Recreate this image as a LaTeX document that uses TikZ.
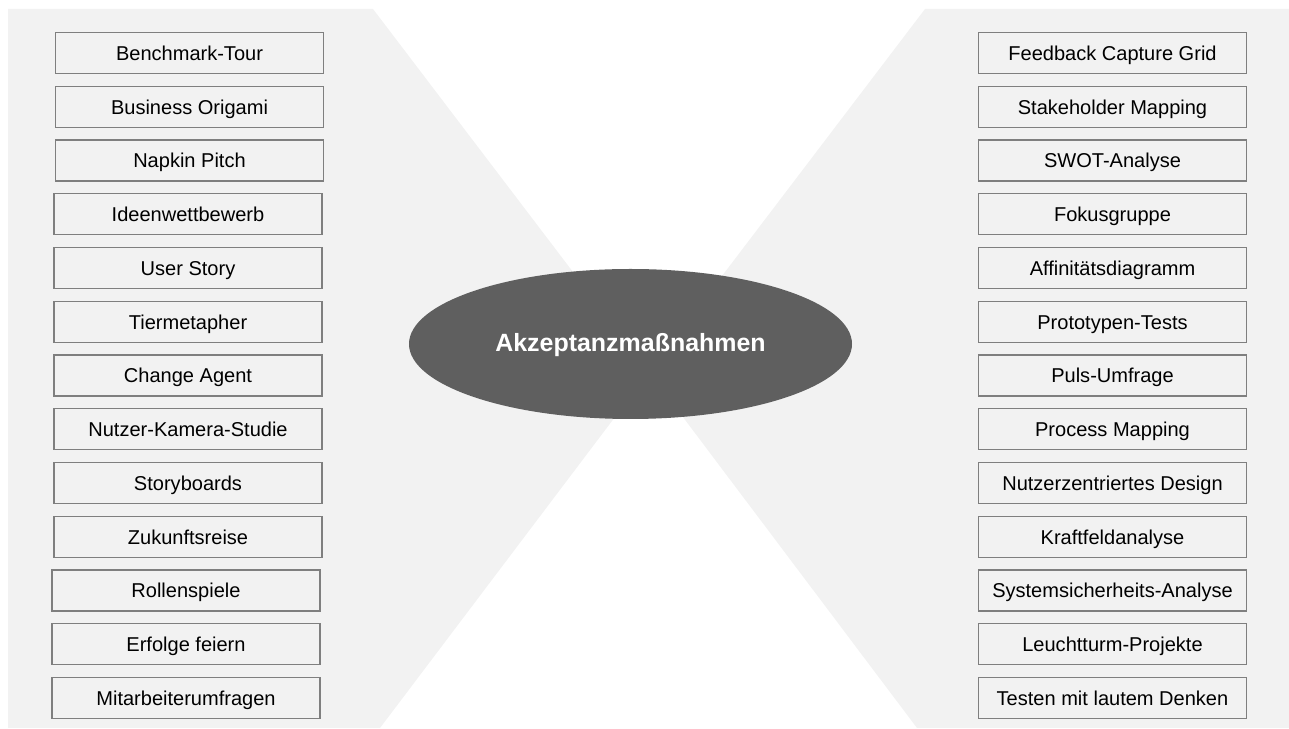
\documentclass[tikz,border=0pt]{standalone}
\usepackage{fontspec}
\setmainfont{Liberation Sans}
\definecolor{fieldgray}{RGB}{242, 242, 242}
\definecolor{lineGray}{RGB}{127, 127, 127}
\definecolor{hubgray}{RGB}{95, 95, 95}
\usetikzlibrary{shapes.geometric}

\begin{document}
\begin{tikzpicture}[
  mbox/.style={draw=lineGray, fill=fieldgray, line width=0.7pt, minimum width=5.36cm, minimum height=0.82cm, inner sep=0pt, text height=0.84em, text depth=0pt, font=\fontsize{11.4}{13}\selectfont},
  hub/.style={ellipse, fill=hubgray, text=white, minimum width=8.86cm, minimum height=3cm, inner sep=0pt, text height=0.86em, text depth=0pt, font=\fontsize{14.2}{17}\selectfont\bfseries}
]
  \useasboundingbox (0, 0) rectangle (25.78, 14.58);
  % grey fields behind the two columns
  \fill[fieldgray] (0.16, 14.4) -- (7.46, 14.4) -- (12.98, 7.14) -- (7.6, 0.02) -- (0.16, 0.02) -- cycle;
  \fill[fieldgray] (18.5, 14.4) -- (25.78, 14.4) -- (25.78, 0.02) -- (18.34, 0.02) -- (12.98, 7.14) -- cycle;

  % left column
  \node[mbox] (l1) at (3.79, 13.52) {Benchmark-Tour};
  \node[mbox] (l2) at (3.79, 12.445) {Business Origami};
  \node[mbox] (l3) at (3.79, 11.37) {Napkin Pitch};
  \node[mbox] (l4) at (3.76, 10.295) {Ideenwettbewerb};
  \node[mbox] (l5) at (3.76, 9.22) {User Story};
  \node[mbox] (l6) at (3.76, 8.145) {Tiermetapher};
  \node[mbox] (l7) at (3.76, 7.07) {Change Agent};
  \node[mbox] (l8) at (3.76, 5.995) {Nutzer-Kamera-Studie};
  \node[mbox] (l9) at (3.76, 4.92) {Storyboards};
  \node[mbox] (l10) at (3.76, 3.845) {Zukunftsreise};
  \node[mbox] (l11) at (3.72, 2.77) {Rollenspiele};
  \node[mbox] (l12) at (3.72, 1.695) {Erfolge feiern};
  \node[mbox] (l13) at (3.72, 0.62) {Mitarbeiterumfragen};

  % right column
  \node[mbox] (r1) at (22.25, 13.52) {Feedback Capture Grid};
  \node[mbox] (r2) at (22.25, 12.445) {Stakeholder Mapping};
  \node[mbox] (r3) at (22.25, 11.37) {SWOT-Analyse};
  \node[mbox] (r4) at (22.25, 10.295) {Fokusgruppe};
  \node[mbox] (r5) at (22.25, 9.22) {Affinitätsdiagramm};
  \node[mbox] (r6) at (22.25, 8.145) {Prototypen-Tests};
  \node[mbox] (r7) at (22.25, 7.07) {Puls-Umfrage};
  \node[mbox] (r8) at (22.25, 5.995) {Process Mapping};
  \node[mbox] (r9) at (22.25, 4.92) {Nutzerzentriertes Design};
  \node[mbox] (r10) at (22.25, 3.845) {Kraftfeldanalyse};
  \node[mbox] (r11) at (22.25, 2.77) {Systemsicherheits-Analyse};
  \node[mbox] (r12) at (22.25, 1.695) {Leuchtturm-Projekte};
  \node[mbox] (r13) at (22.25, 0.62) {Testen mit lautem Denken};

  % centre
  \node[hub] (hub) at (12.61, 7.7) {Akzeptanzmaßnahmen};
\end{tikzpicture}
\end{document}
